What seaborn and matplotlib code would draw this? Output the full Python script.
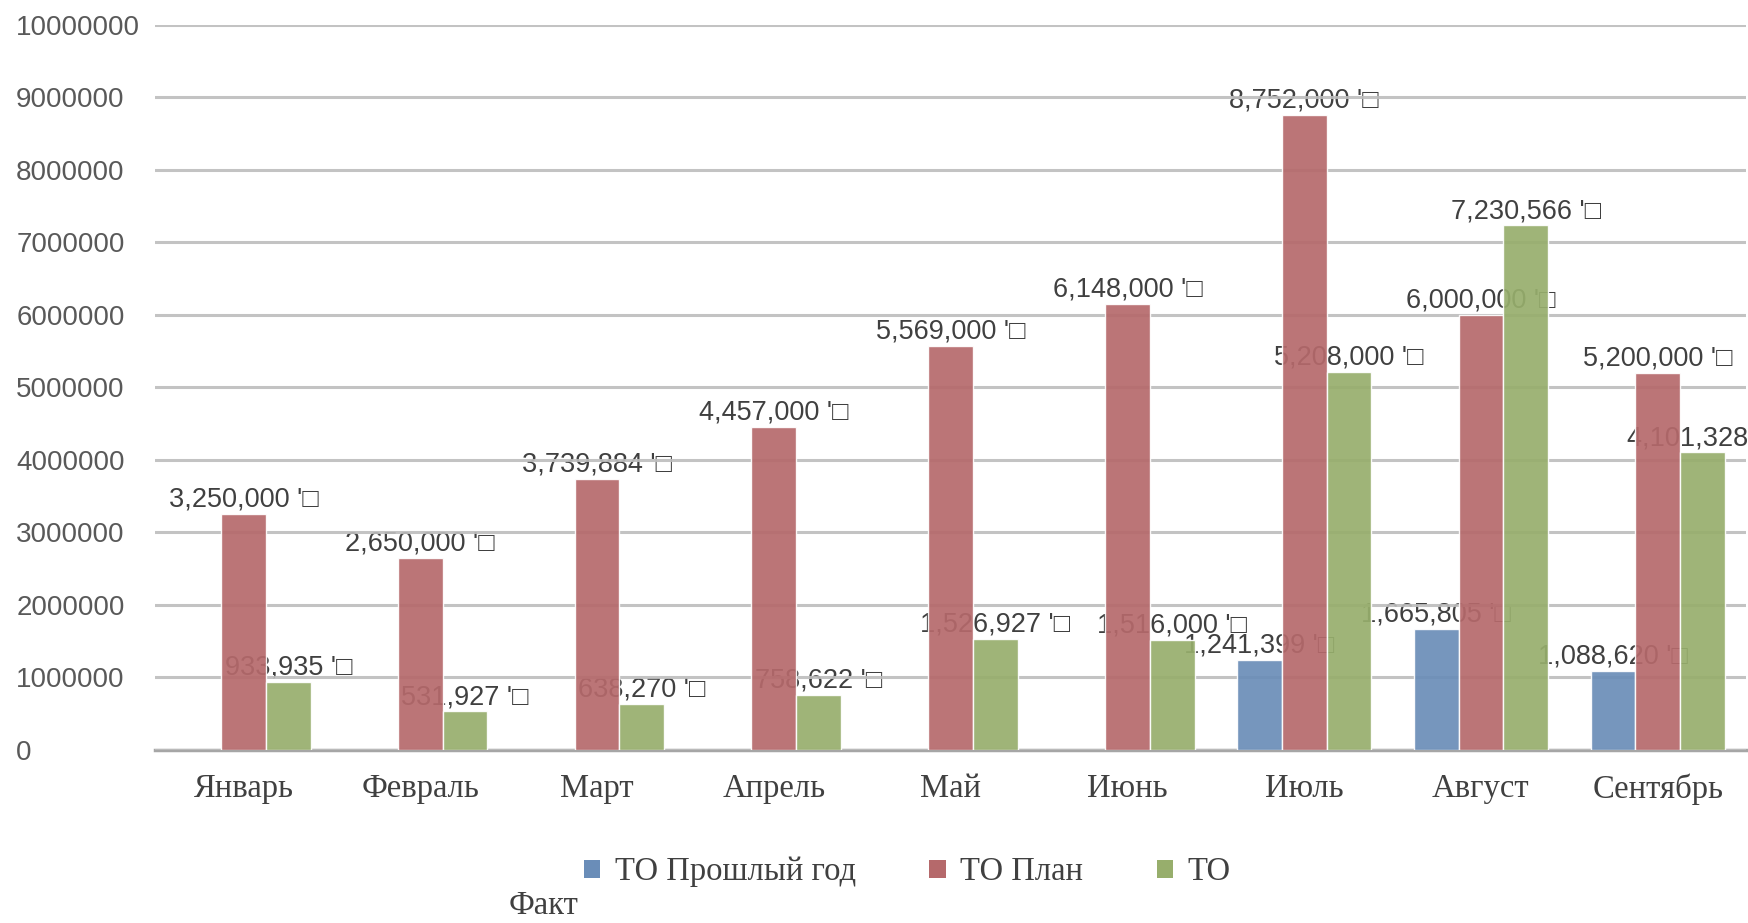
import matplotlib
matplotlib.use('Agg')
import matplotlib.pyplot as plt
from matplotlib.patches import Patch
import numpy as np
import pandas as pd
import seaborn as sns

# Data
months = ['Январь', 'Февраль', 'Март', 'Апрель', 'Май', 'Июнь', 'Июль', 'Август', 'Сентябрь']
series = ['ТО Прошлый год', 'ТО План', 'ТО Факт']
prev_year = [np.nan, np.nan, np.nan, np.nan, np.nan, np.nan, 1241399, 1665805, 1088620]
plan = [3250000, 2650000, 3739884, 4457000, 5569000, 6148000, 8752000, 6000000, 5200000]
fact = [933935, 531927, 638270, 758622, 1526927, 1516000, 5208000, 7230566, 4101328]
y_ticks = list(range(0, 10000001, 1000000))

colors = ['#6A8DB8', '#B5696B', '#97AE6C']
serif = 'Liberation Serif'

df = pd.DataFrame({
    'month': months * 3,
    'series': [s for s in series for _ in months],
    'value': prev_year + plan + fact,
}).dropna()

sns.set_style('white')
plt.rcParams['font.family'] = ['Liberation Sans', 'DejaVu Sans']

fig = plt.figure(figsize=(17.48, 9.23), dpi=100)
ax = fig.add_axes([0.0887, 0.1874, 0.9102, 0.786])

sns.barplot(data=df, x='month', y='value', hue='series', order=months,
            hue_order=series, palette=colors, width=0.76, saturation=1,
            alpha=0.92, ax=ax, zorder=3, legend=False)

# Value labels above bars (drawn behind the bars like in the original)
for container in ax.containers:
    labels = [f"{v:,.0f} '\u25a1" for v in container.datavalues]
    ax.bar_label(container, labels=labels, padding=1, fontsize=19.5,
                 color='#404040', zorder=2, clip_on=False)

ax.set_xlim(-0.5, 8.5)
ax.set_ylim(0, 10000000)
ax.set_yticks(y_ticks)
ax.set_yticklabels([str(t) for t in y_ticks])
ax.yaxis.grid(True, color='#BDBDBD', linewidth=2.2, alpha=0.9, zorder=4)
ax.set_axisbelow(False)
for s in ['top', 'right', 'left']:
    ax.spines[s].set_visible(False)
ax.spines['bottom'].set_color('#A6A6A6')
ax.spines['bottom'].set_linewidth(2.5)
ax.tick_params(axis='y', length=0, pad=100, labelsize=20, labelcolor='#595959')
for lbl in ax.get_yticklabels():
    lbl.set_horizontalalignment('left')
ax.tick_params(axis='x', length=0, pad=17, labelsize=23.5, labelcolor='#404040')
for lbl in ax.get_xticklabels():
    lbl.set_fontfamily(serif)
ax.set_xlabel('')
ax.set_ylabel('')

# Legend: the last entry wraps, "Факт" sits on a second line
handles = [Patch(facecolor=c, edgecolor='none') for c in colors]
leg = fig.legend(handles, ['ТО Прошлый год', 'ТО План', 'ТО'], ncol=3,
                 loc='center', bbox_to_anchor=(0.519, 0.055), frameon=False,
                 handlelength=0.5, handleheight=0.5, handletextpad=0.45,
                 columnspacing=2.25, prop={'family': serif, 'size': 23.5})
for t in leg.get_texts():
    t.set_color('#404040')
fig.text(0.291, 0.01, 'Факт', family=serif, fontsize=23.5, color='#404040')

fig.savefig('out.png', dpi=100)
